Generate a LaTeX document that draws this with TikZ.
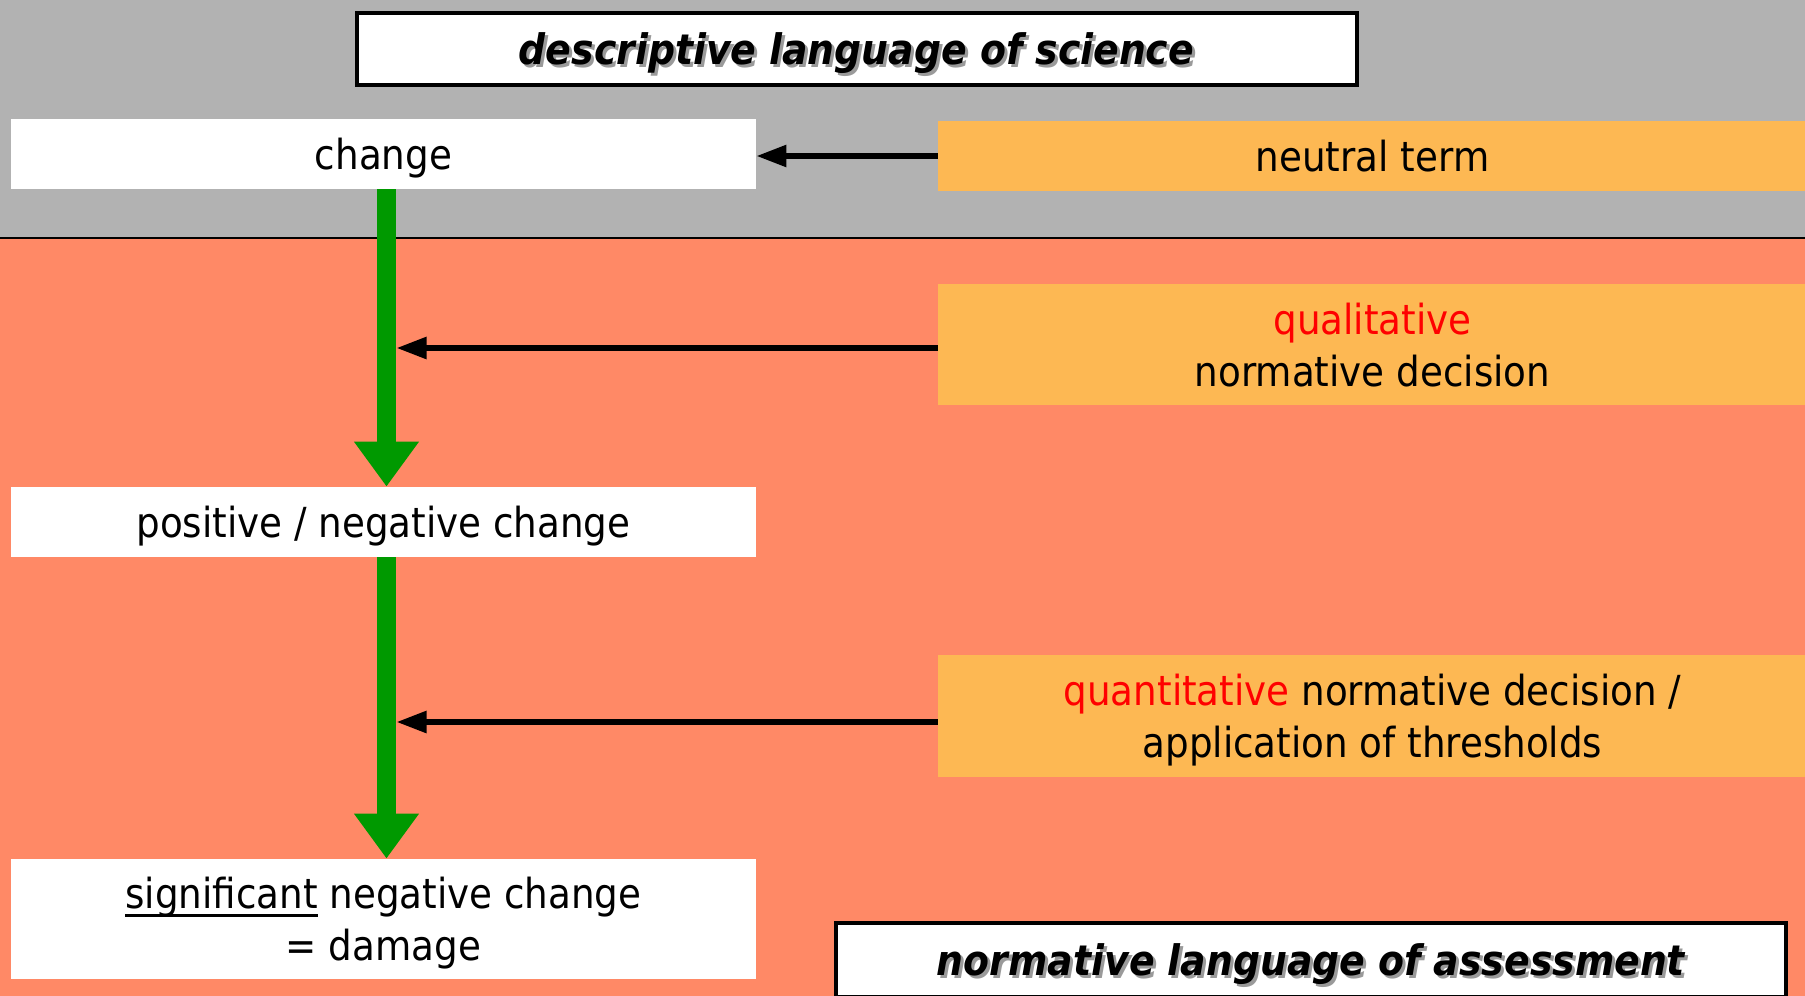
\documentclass[tikz,border=0pt]{standalone}
\usepackage{fontspec}
\setmainfont{DejaVu Sans Condensed}
\usetikzlibrary{arrows.meta}
\definecolor{bandgray}{HTML}{B2B2B2}
\definecolor{salmon}{HTML}{FF8966}
\definecolor{amber}{HTML}{FDB853}
\definecolor{arrowgreen}{HTML}{009900}
\definecolor{termred}{HTML}{FF0000}
\definecolor{shadowgray}{HTML}{9A9A9A}
% a heavier underline set just under the descenders
\newcommand\heavyul[1]{\setbox0\hbox{#1}\copy0\kern-\wd0\rule[-4.2pt]{\wd0}{1.5pt}}
\begin{document}
\begin{tikzpicture}[x=0.5pt,y=-0.5pt,
  every node/.style={inner sep=0pt, align=center, text depth=0pt, font=\fontsize{20.7}{26}\selectfont},
  termbox/.style={fill=white, minimum width=372.5pt},
  notebox/.style={fill=amber, minimum width=434.5pt},
  framebox/.style={fill=white, draw=black, line width=2pt},
  headline/.style={font=\fontsize{21}{26}\selectfont\bfseries\itshape},
  headshadow/.style={headline, text=shadowgray},
  greenarrow/.style={draw=arrowgreen, line width=9.5pt, -{Triangle[length=22.5pt,width=31pt]}},
  blackarrow/.style={draw=black, line width=2.8pt, -{Triangle[length=15pt,width=10.5pt]}}]
\useasboundingbox (0,0) rectangle (1805,996);

% background bands
\fill[salmon] (0,238) rectangle (1805,996);
\fill[bandgray] (0,0) rectangle (1805,238);
\draw[line width=0.8pt] (0,238) -- (1805,238);

% headings
\node[framebox, minimum width=500pt, minimum height=36pt] (top) at (856.5,49) {};
\node[headshadow] (topshadow) at ([xshift=1.5pt,yshift=-1.5pt]top.center) {descriptive language of science};
\node[headline] (toptext) at (top.center) {descriptive language of science};

\node[framebox, minimum width=475pt, minimum height=37pt] (bottom) at (1311,960) {};
\node[headshadow] (bottomshadow) at ([xshift=1.5pt,yshift=-1.5pt]bottom.center) {normative language of assessment};
\node[headline] (bottomtext) at (bottom.center) {normative language of assessment};

% terms on the left
\node[termbox, minimum height=35pt] (change) at (383.5,154) {change};
\node[termbox, minimum height=35pt] (posneg) at (383.5,522) {positive / negative change};
\node[termbox, minimum height=60pt] (damage) at (383.5,919) {\heavyul{significant} negative change\\= damage};

% decisions on the right
\node[notebox, minimum height=35pt] (neutral) at (1372.5,156) {neutral term};
\node[notebox, minimum height=60.5pt] (qual) at (1372.5,344.5) {\textcolor{termred}{qualitative}\\normative decision};
\node[notebox, minimum height=61pt] (quant) at (1372.5,716) {\textcolor{termred}{quantitative} normative decision /\\application of thresholds};

% green steps
\draw[greenarrow] ([xshift=1.5pt]change.south) -- ([xshift=1.5pt]posneg.north);
\draw[greenarrow] ([xshift=1.5pt]posneg.south) -- ([xshift=1.5pt]damage.north);

% black arrows
\coordinate (qualhit) at (396.5,348);
\coordinate (quanthit) at (396.5,722);
\draw[blackarrow] (neutral.west) -- (neutral.west -| change.east);
\draw[blackarrow] (qual.west |- qualhit) -- (qualhit);
\draw[blackarrow] (quant.west |- quanthit) -- (quanthit);
\end{tikzpicture}
\end{document}
